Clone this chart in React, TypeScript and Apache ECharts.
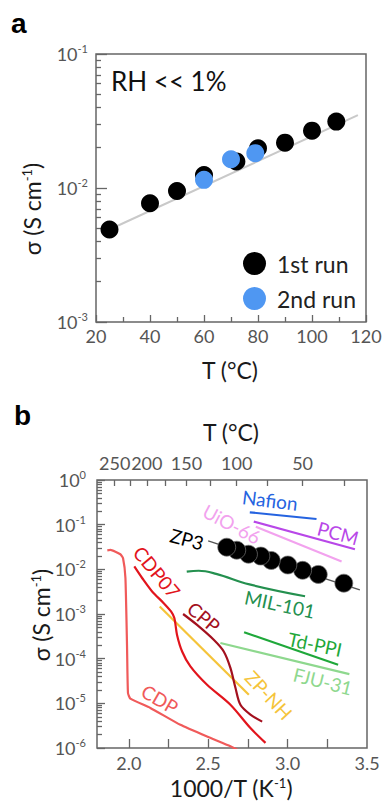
import React, { useEffect, useRef } from "react";
import * as echarts from "echarts";

const W = 383;
const H = 802;

// ---- Panel a: sigma vs T, dry conditions ----
const runOneTemps = [25, 40, 50, 60, 72, 80, 90, 100, 109];
const runOneSigma = [4.9e-3, 7.7e-3, 9.5e-3, 1.25e-2, 1.58e-2, 1.98e-2, 2.18e-2, 2.68e-2, 3.13e-2];
const runTwoTemps = [60, 70, 79];
const runTwoSigma = [1.15e-2, 1.64e-2, 1.82e-2];
const fitTemps = [25, 117];
const fitSigma = [4.9e-3, 3.5e-2];

// ---- Panel b: Arrhenius comparison (x = 1000/T, K^-1) ----
const zp3Fit = [[2.5, 4.32e-2], [3.455, 3.46e-3]];
const nafion = [[2.762, 0.189], [3.182, 0.134]];
const pcm = [[2.787, 0.117], [3.424, 2.82e-2]];
const uio66 = [[2.8, 9.0e-2], [3.34, 1.49e-2]];
const mil101 = [[2.365, 8.9e-3], [2.44, 9.3e-3], [2.55, 7.9e-3], [2.76, 4.6e-3], [3.11, 2.5e-3]];
const tdPpi = [[2.726, 3.9e-4], [3.318, 7.3e-5]];
const fju31 = [[2.577, 2.24e-4], [3.389, 4.5e-5]];
const zpNh = [[2.195, 1.47e-3], [2.756, 1.55e-5]];
const cpp = [
  [2.342, 1.0e-3], [2.43, 5.7e-4], [2.535, 2.65e-4], [2.598, 1.45e-4], [2.64, 6.2e-5],
  [2.672, 2.2e-5], [2.703, 9.3e-6], [2.766, 5.6e-6], [2.84, 3.9e-6],
];
const cdp07 = [
  [2.035, 1.16e-2], [2.084, 6.4e-3], [2.147, 3.2e-3], [2.22, 1.75e-3], [2.266, 1.14e-3],
  [2.287, 8.1e-4], [2.304, 3.4e-4], [2.336, 1.45e-4], [2.388, 6.7e-5], [2.493, 2.6e-5],
  [2.64, 9.3e-6], [2.766, 2.8e-6], [2.861, 1.3e-6],
];
const cdp = [
  [1.865, 2.66e-2], [1.884, 2.73e-2], [1.947, 2.18e-2], [1.964, 1.78e-2], [1.979, 6.4e-3],
  [1.989, 2.0e-4], [1.995, 1.7e-5], [2.01, 1.27e-5], [2.136, 7.9e-6], [2.325, 3.3e-6],
  [2.493, 1.8e-6], [2.64, 1.09e-6], [2.7, 8.5e-7],
];

// ---- Axis ticks ----
const xTicksB = [2.0, 2.25, 2.5, 2.75, 3.0, 3.25];
const xLabelsB = [2.0, 2.5, 3.0, 3.5];
const topTickTemps = [250, 225, 200, 175, 150, 125, 100, 75, 50, 25];
const topLabelTemps = [250, 200, 150, 100, 50];
const decadesA = [1e-3, 1e-2, 1e-1];
const decadesB = [1e-6, 1e-5, 1e-4, 1e-3, 1e-2, 1e-1, 1];
const minorSteps = [2, 3, 4, 5, 6, 7, 8, 9];

const FONT = "Lato, 'Open Sans', sans-serif";
const FRAME = "#666";
const TICKTXT = "#555";
const TITLE = "#1a1a1a";

const invT = (c: number) => 1000 / (c + 273.15);
const minorOf = (decs: number[]) =>
  decs.slice(0, -1).flatMap((d) => minorSteps.map((m) => m * d));

const powRich = {
  b: { fontSize: 18, color: TICKTXT, fontFamily: FONT, lineHeight: 22 },
  s: { fontSize: 11, color: TICKTXT, fontFamily: FONT, lineHeight: 12, verticalAlign: "top" },
};
const powLabel = (v: number) => `{b|10}{s|${Math.round(Math.log10(v))}}`;

const tickLine = { color: FRAME, width: 1.3 };

function logAxis(grid: number, min: number, max: number, decs: number[], margin: number, major: boolean, len: number) {
  return {
    gridIndex: grid,
    type: "log",
    logBase: 10,
    min,
    max,
    position: "left",
    axisLine: { show: false },
    splitLine: { show: false },
    axisTick: {
      show: true,
      inside: true,
      length: len,
      lineStyle: tickLine,
      customValues: major ? decs : minorOf(decs),
    },
    axisLabel: major
      ? { show: true, customValues: decs, formatter: powLabel, rich: powRich, margin }
      : { show: false },
  };
}

const titleRich = {
  t: { fontSize: 23, fontFamily: FONT, fill: TITLE, color: TITLE, lineHeight: 24 },
  s: { fontSize: 13, fontFamily: FONT, fill: TITLE, color: TITLE, lineHeight: 13, verticalAlign: "top" },
};

function txt(text: string, x: number, y: number, opts: any = {}) {
  return {
    type: "text",
    x,
    y,
    rotation: opts.rot ? (-opts.rot * Math.PI) / 180 : 0,
    silent: true,
    style: {
      text,
      fill: opts.color || TITLE,
      font: `${opts.weight || "normal"} ${opts.size || 19}px ${opts.family || FONT}`,
      align: opts.align || "center",
      verticalAlign: "middle",
      rich: opts.rich,
    },
  };
}

function curve(name: string, data: number[][], color: string, width = 2, smooth: number | boolean = 0.35) {
  return {
    name,
    type: "line",
    xAxisIndex: 1,
    yAxisIndex: 2,
    data,
    showSymbol: false,
    symbol: "none",
    smooth,
    clip: true,
    silent: true,
    lineStyle: { color, width },
    z: 3,
  };
}

const C = {
  nafion: "#2563e0",
  pcm: "#b847e8",
  uio: "#f2a2ee",
  mil: "#24904f",
  td: "#1fa83a",
  fju: "#8ed88e",
  cdp: "#f05a5a",
  cdp07: "#e2141c",
  cpp: "#a3101e",
  zpnh: "#f5c43a",
};

const option: any = {
  animation: false,
  backgroundColor: "#fff",
  textStyle: { fontFamily: FONT },
  grid: [
    { left: 96, top: 54, width: 270, height: 268, show: true, borderColor: FRAME, borderWidth: 1.5, backgroundColor: "transparent", containLabel: false, outerBoundsMode: "none" },
    { left: 97, top: 480, width: 270, height: 268, show: true, borderColor: FRAME, borderWidth: 1.5, backgroundColor: "transparent", containLabel: false, outerBoundsMode: "none" },
  ],
  xAxis: [
    {
      gridIndex: 0,
      type: "value",
      min: 20,
      max: 120,
      interval: 20,
      position: "bottom",
      axisLine: { show: false },
      splitLine: { show: false },
      axisTick: { show: true, inside: true, length: 7, lineStyle: tickLine },
      minorTick: { show: true, splitNumber: 2, length: 5, lineStyle: tickLine },
      axisLabel: { margin: 5, fontSize: 18, color: TICKTXT, fontFamily: FONT },
    },
    {
      gridIndex: 1,
      type: "value",
      min: 1.8,
      max: 3.5,
      position: "bottom",
      axisLine: { show: false },
      splitLine: { show: false },
      axisTick: { show: true, inside: true, length: 9, lineStyle: tickLine, customValues: xTicksB },
      axisLabel: {
        margin: 6,
        fontSize: 18,
        color: TICKTXT,
        fontFamily: FONT,
        customValues: xLabelsB,
        formatter: (v: number) => v.toFixed(1),
      },
    },
    {
      gridIndex: 1,
      type: "value",
      min: 1.8,
      max: 3.5,
      position: "top",
      axisLine: { show: false },
      splitLine: { show: false },
      axisTick: { show: true, inside: true, length: 6, lineStyle: tickLine, customValues: topTickTemps.map(invT) },
      axisLabel: {
        margin: 8,
        fontSize: 18,
        color: TICKTXT,
        fontFamily: FONT,
        customValues: topLabelTemps.map(invT),
        formatter: (v: number) => String(Math.round(1000 / v - 273.15)),
      },
    },
  ],
  yAxis: [
    logAxis(0, 1e-3, 1e-1, decadesA, 8, true, 11),
    logAxis(0, 1e-3, 1e-1, decadesA, 8, false, 5),
    logAxis(1, 1e-6, 1, decadesB, 11, true, 8),
    logAxis(1, 1e-6, 1, decadesB, 11, false, 5),
  ],
  legend: {
    data: ["1st run", "2nd run"],
    orient: "vertical",
    left: 238,
    top: 247,
    itemWidth: 23,
    itemHeight: 23,
    itemGap: 12,
    icon: "circle",
    selectedMode: false,
    textStyle: { fontSize: 23, fontFamily: FONT, color: "#222", padding: [0, 0, 0, 6] },
  },
  series: [
    {
      name: "fit-a",
      type: "line",
      xAxisIndex: 0,
      yAxisIndex: 0,
      data: fitTemps.map((t, i) => [t, fitSigma[i]]),
      showSymbol: false,
      symbol: "none",
      silent: true,
      lineStyle: { color: "#c9c9c9", width: 2 },
      z: 2,
    },
    {
      name: "1st run",
      type: "scatter",
      xAxisIndex: 0,
      yAxisIndex: 0,
      data: runOneTemps.map((t, i) => [t, runOneSigma[i]]),
      symbolSize: 18,
      itemStyle: { color: "#000", opacity: 1 },
      z: 3,
    },
    {
      name: "2nd run",
      type: "scatter",
      xAxisIndex: 0,
      yAxisIndex: 0,
      data: runTwoTemps.map((t, i) => [t, runTwoSigma[i]]),
      symbolSize: 18,
      itemStyle: { color: "#4f97f2", opacity: 1 },
      z: 4,
    },
    curve("Nafion", nafion, C.nafion, 2.2, false),
    curve("PCM", pcm, C.pcm, 2.2, false),
    curve("UiO-66", uio66, C.uio, 2.2, false),
    curve("MIL-101", mil101, C.mil, 2.2, 0.4),
    curve("Td-PPI", tdPpi, C.td, 2.2, false),
    curve("FJU-31", fju31, C.fju, 2.2, false),
    curve("ZP-NH", zpNh, C.zpnh, 2.2, false),
    curve("CDP", cdp, C.cdp, 2.2, 0.15),
    curve("CDP07", cdp07, C.cdp07, 2.2, 0.3),
    curve("CPP", cpp, C.cpp, 2.2, 0.3),
    {
      name: "ZP3 fit",
      type: "line",
      xAxisIndex: 1,
      yAxisIndex: 2,
      data: zp3Fit,
      showSymbol: false,
      symbol: "none",
      silent: true,
      lineStyle: { color: "#555", width: 1.4 },
      z: 4,
    },
    {
      name: "ZP3",
      type: "scatter",
      xAxisIndex: 1,
      yAxisIndex: 2,
      data: runOneTemps.map((t, i) => [invT(t), runOneSigma[i]]),
      symbolSize: 18,
      itemStyle: { color: "#000", borderColor: "#777", borderWidth: 0.7, opacity: 1 },
      z: 5,
    },
  ],
  graphic: [
    txt("a", 11, 23.5, { size: 28, weight: "bold", family: "'Liberation Sans', Arial, sans-serif", align: "left", color: "#000" }),
    txt("b", 14, 415, { size: 28, weight: "bold", family: "'Liberation Sans', Arial, sans-serif", align: "left", color: "#000" }),
    txt("RH << 1%", 111, 80.5, { size: 26, align: "left", color: "#111" }),
    txt("T (°C)", 230, 370, { size: 23 }),
    txt("T (°C)", 231, 432, { size: 23 }),
    txt("{t|1000/T (K}{s|-1}{t|)}", 231, 788, { size: 23, rich: titleRich }),
    txt("{t|σ (S cm}{s|-1}{t|)}", 32, 209, { size: 23, rich: titleRich, rot: -90 }),
    txt("{t|σ (S cm}{s|-1}{t|)}", 41, 615, { size: 23, rich: titleRich, rot: -90 }),
    txt("Nafion", 270, 500, { color: C.nafion, rot: 7 }),
    txt("PCM", 338, 533, { color: C.pcm, rot: 15 }),
    txt("UiO-66", 232, 524, { color: C.uio, rot: 28 }),
    txt("ZP3", 187, 539, { color: "#000", rot: 15 }),
    txt("CDP07", 157, 572, { color: C.cdp07, rot: 50 }),
    txt("CPP", 204, 617, { color: C.cpp, rot: 40 }),
    txt("CDP", 160, 699, { color: C.cdp, rot: 30 }),
    txt("ZP-NH", 269, 695, { color: C.zpnh, rot: 47 }),
    txt("MIL-101", 280, 604, { color: C.mil, rot: 12 }),
    txt("Td-PPI", 315, 644, { color: C.td, rot: 12 }),
    txt("FJU-31", 323, 681, { color: C.fju, rot: 14 }),
  ],
};

export default function App() {
  const ref = useRef<HTMLDivElement>(null);
  useEffect(() => {
    if (!ref.current) return;
    const chart = echarts.init(ref.current, undefined, { renderer: "svg", width: W, height: H });
    chart.setOption(option);
    return () => chart.dispose();
  }, []);
  return (
    <div
      ref={ref}
      style={{ position: "fixed", left: 0, top: 0, width: W, height: H, background: "#fff" }}
    />
  );
}
